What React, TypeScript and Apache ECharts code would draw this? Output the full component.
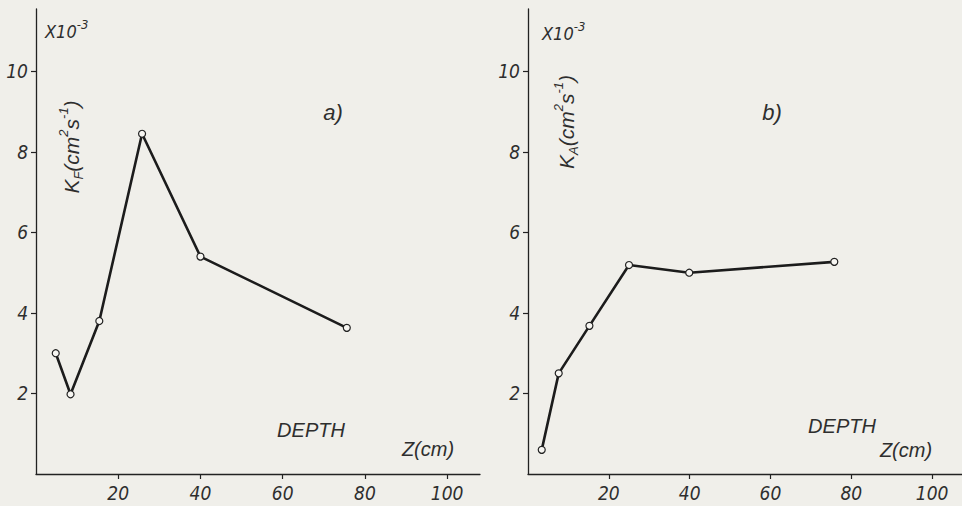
import React, { useEffect, useRef } from "react";
import * as echarts from "echarts";

// Panel a) K_F vs depth
const depthA = [4.8, 8.4, 15.4, 25.8, 40.0, 75.6];
const kfA = [3.0, 1.98, 3.8, 8.45, 5.4, 3.63];
// Panel b) K_A vs depth
const depthB = [3.4, 7.6, 15.2, 25.0, 39.9, 75.8];
const kaB = [0.6, 2.5, 3.68, 5.19, 5.0, 5.27];

const xTicks = [20, 40, 60, 80, 100];
const yTicks = [2, 4, 6, 8, 10];

const BG = "#f0efea";
const INK = "#222222";
const TXT = "#2e2e2e";
const FONT = "'Liberation Sans Narrow', 'DejaVu Sans Condensed', 'Liberation Sans', sans-serif";
const FONT2 = "'Liberation Sans', 'DejaVu Sans', sans-serif";

export default function App() {
  const ref = useRef<HTMLDivElement>(null);
  useEffect(() => {
    document.body.style.margin = "0";
    const chart = echarts.init(ref.current!, null, { renderer: "svg" });

    const axisCommon = {
      axisLine: { show: true, onZero: false, lineStyle: { color: INK, width: 1.3 } },
      splitLine: { show: false },
    };
    const tickLabel = {
      color: TXT,
      fontFamily: FONT,
      fontStyle: "italic",
      fontSize: 19,
    };
    const mkX = (gridIndex: number, max: number) => ({
      type: "value",
      gridIndex,
      min: 0,
      max,
      ...axisCommon,
      axisTick: { show: true, length: 5, customValues: xTicks, lineStyle: { color: INK, width: 1.2 } },
      axisLabel: { ...tickLabel, margin: 9, customValues: xTicks },
    });
    const mkY = (gridIndex: number) => ({
      type: "value",
      gridIndex,
      min: 0,
      max: 11.55,
      ...axisCommon,
      axisTick: { show: true, length: 5, customValues: yTicks, lineStyle: { color: INK, width: 1.2 } },
      axisLabel: { ...tickLabel, margin: 8, customValues: yTicks },
    });
    const mkSeries = (xs: number[], ys: number[], idx: number) => ({
      type: "line",
      xAxisIndex: idx,
      yAxisIndex: idx,
      data: xs.map((x, i) => [x, ys[i]]),
      symbol: "circle",
      symbolSize: 7,
      showAllSymbol: true,
      itemStyle: { color: "#f7f6f2", borderColor: INK, borderWidth: 1.2 },
      lineStyle: { color: "#1c1c1c", width: 2.6 },
      z: 3,
    });

    const textStyle = (extra: any) => ({
      fill: TXT,
      fontFamily: FONT2,
      fontStyle: "italic",
      ...extra,
    });

    const scaleText = (x: number, y: number) => ({
      type: "text",
      x,
      y,
      style: textStyle({
        text: "{n|X10}{s|-3}",
        textVerticalAlign: "top",
        rich: {
          n: { fontSize: 18, fontFamily: FONT, fontStyle: "italic", color: TXT, verticalAlign: "bottom", lineHeight: 22 },
          s: { fontSize: 13, fontFamily: FONT, fontStyle: "italic", color: TXT, verticalAlign: "top", lineHeight: 12 },
        },
      }),
    });

    const yName = (x: number, y: number, sub: string) => ({
      type: "text",
      x,
      y,
      rotation: Math.PI / 2,
      style: textStyle({
        text: `{n|K}{b|${sub}}{n|(cm}{s|2}{n|s}{s|-1}{n|)}`,
        textAlign: "center",
        textVerticalAlign: "middle",
        rich: {
          n: { fontSize: 21, fontFamily: FONT2, fontStyle: "italic", color: TXT, verticalAlign: "middle", lineHeight: 28 },
          s: { fontSize: 13, fontFamily: FONT2, fontStyle: "italic", color: TXT, verticalAlign: "top", lineHeight: 13 },
          b: { fontSize: 13, fontFamily: FONT2, fontStyle: "italic", color: TXT, verticalAlign: "bottom", lineHeight: 13 },
        },
      }),
    });

    const label = (x: number, y: number, text: string, size: number) => ({
      type: "text",
      x,
      y,
      style: textStyle({
        text,
        fontSize: size,
        textAlign: "center",
        textVerticalAlign: "middle",
      }),
    });

    chart.setOption({
      animation: false,
      backgroundColor: BG,
      grid: [
        { left: 36, top: 9, width: 444, height: 465 },
        { left: 528, top: 9, width: 434, height: 465 },
      ],
      xAxis: [mkX(0, 108), mkX(1, 107.4)],
      yAxis: [mkY(0), mkY(1)],
      series: [mkSeries(depthA, kfA, 0), mkSeries(depthB, kaB, 1)],
      graphic: [
        scaleText(45, 18),
        scaleText(542, 20),
        yName(71, 147, "F"),
        yName(566, 122, "A"),
        label(333, 112, "a)", 22),
        label(772, 112, "b)", 22),
        label(311, 430, "DEPTH", 20),
        label(842, 426, "DEPTH", 20),
        label(428, 449, "Z(cm)", 20),
        label(906, 450, "Z(cm)", 20),
      ],
    });
    return () => chart.dispose();
  }, []);
  return (
    <div
      ref={ref}
      style={{ position: "absolute", left: 0, top: 0, width: 962, height: 506 }}
    />
  );
}
